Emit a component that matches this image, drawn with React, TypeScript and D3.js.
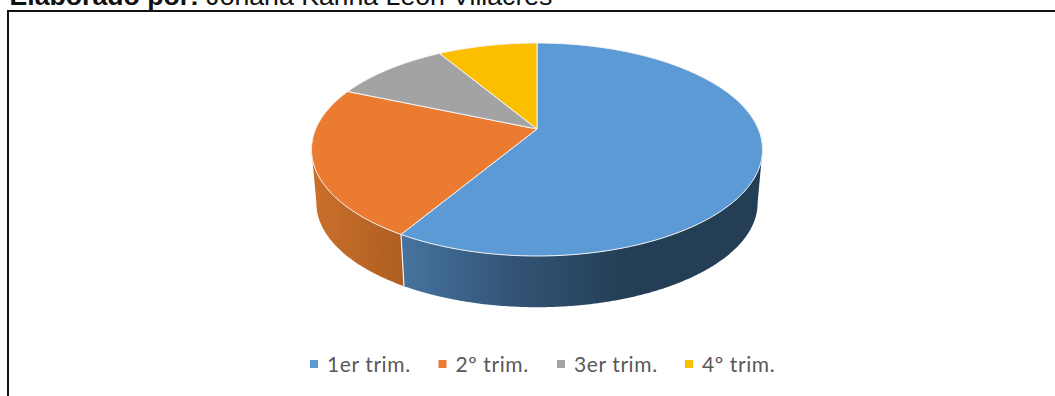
import React from "react";
import * as d3 from "d3";

const categories = ["1er trim.", "2º trim.", "3er trim.", "4º trim."];
const sales = [8.2, 3.2, 1.4, 1.2];
const topColors = ["#5b9ad5", "#ea7b30", "#a3a3a3", "#fbbf00"];
const legendMarkerX = [310, 438.5, 557, 685];

const W = 1055;
const H = 396;
const CX = 537;

// Perspective mapping of a disc: every point of the unit circle is divided by (1 + k*v)
interface Disc { y0: number; a: number; b: number; k: number; }
const topDisc: Disc = { y0: 129, a: 102.55, b: 221.3, k: -0.1925 };
const lowerDisc: Disc = { y0: 183, a: 100.3, b: 216.5, k: -0.1925 };

const unitX = d3.scaleLinear().domain([-1, 1]);
const unitY = d3.scaleLinear().domain([-1, 1]);

function project(d: Disc, phi: number, r = 1): [number, number] {
  const u = r * Math.sin(phi);
  const v = -r * Math.cos(phi);
  const w = 1 + d.k * v;
  unitX.range([CX - d.b, CX + d.b]);
  unitY.range([d.y0 - d.a, d.y0 + d.a]);
  return [unitX(u / w), unitY(v / w)];
}

const slices = d3.pie<number>().sort(null).startAngle(0).endAngle(2 * Math.PI)(sales);
const lineGen = d3.line<[number, number]>();

function arcPoints(d: Disc, a0: number, a1: number): [number, number][] {
  const n = Math.max(2, Math.ceil(Math.abs(a1 - a0) / 0.01));
  return d3.range(n + 1).map((i) => project(d, a0 + ((a1 - a0) * i) / n));
}

function topPath(a0: number, a1: number): string {
  const pts: [number, number][] = [project(topDisc, 0, 0), ...arcPoints(topDisc, a0, a1)];
  return lineGen(pts) + "Z";
}

// The rim runs between the two widest points of the disc, on its near side
const RIM_FROM = (101 * Math.PI) / 180;
const RIM_TO = (259 * Math.PI) / 180;

function wallPath(a0: number, a1: number): string | null {
  const s = Math.max(a0, RIM_FROM);
  const e = Math.min(a1, RIM_TO);
  if (e <= s) return null;
  const pts = [...arcPoints(topDisc, s, e), ...arcPoints(lowerDisc, e, s)];
  return lineGen(pts) + "Z";
}

const wallFills = ["url(#wallBlue)", "url(#wallOrange)", "#7a7a7a", "#b98c00"];

export default function App() {
  const seam = slices[0].endAngle;
  const seamTop = project(topDisc, seam);
  const seamLow = project(lowerDisc, seam);
  return (
    <svg
      width={W}
      height={H}
      viewBox={`0 0 ${W} ${H}`}
      style={{ position: "fixed", left: 0, top: 0, background: "#fff" }}
    >
      <defs>
        <linearGradient id="wallBlue" gradientUnits="userSpaceOnUse" x1={402} x2={763} y1={0} y2={0}>
          <stop offset="0" stopColor="#46739e" />
          <stop offset="0.3" stopColor="#335476" />
          <stop offset="0.62" stopColor="#243f55" />
          <stop offset="1" stopColor="#243f55" />
        </linearGradient>
        <linearGradient id="wallOrange" gradientUnits="userSpaceOnUse" x1={312} x2={405} y1={0} y2={0}>
          <stop offset="0" stopColor="#cb702b" />
          <stop offset="1" stopColor="#ad5e22" />
        </linearGradient>
      </defs>

      <text x={9.5} y={4.5} fontFamily="'Liberation Sans', Arial, sans-serif" fontSize={26.65} fill="#111">
        <tspan fontWeight="bold">Elaborado por:</tspan>
        <tspan> Johana Karina León Villacres</tspan>
      </text>
      <path d={`M8 ${H}V11H${W}`} fill="none" stroke="#111" strokeWidth={2} />

      {slices.map((s, i) => {
        const d = wallPath(s.startAngle, s.endAngle);
        return d ? <path key={categories[i]} d={d} fill={wallFills[i]} /> : null;
      })}
      <line x1={seamTop[0]} y1={seamTop[1]} x2={seamLow[0]} y2={seamLow[1]} stroke="#fff" strokeWidth={1.2} opacity={0.9} />

      {slices.map((s, i) => (
        <path
          key={categories[i]}
          d={topPath(s.startAngle, s.endAngle)}
          fill={topColors[i]}
          stroke="#f4f4f4"
          strokeWidth={1}
          strokeLinejoin="round"
        />
      ))}

      {categories.map((c, i) => (
        <g key={c}>
          <rect x={legendMarkerX[i]} y={360} width={8} height={8} fill={topColors[i]} />
          <text
            x={legendMarkerX[i] + 17}
            y={371.5}
            fontFamily="Lato, sans-serif"
            fontSize={21}
            letterSpacing={0.6}
            fill="#595959"
          >
            {c}
          </text>
        </g>
      ))}
    </svg>
  );
}
